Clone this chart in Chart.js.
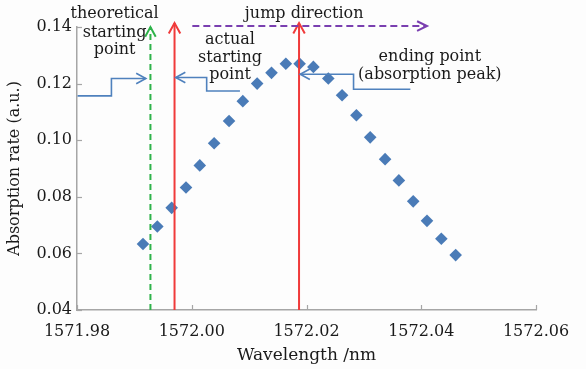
<!DOCTYPE html>
<html>
<head>
<meta charset="utf-8">
<script src="https://cdn.jsdelivr.net/npm/chart.js@4"></script>
<style>
  html, body { margin:0; padding:0; background:#fdfdfd; }
  #wrap { width:586px; height:369px; position:relative; }
</style>
</head>
<body>
<div id="wrap"><canvas id="c" width="586" height="369"></canvas></div>
<script>
// ---- data ----
const wavelengths = [1571.9915, 1571.9940, 1571.9965, 1571.9990, 1572.0014, 1572.0039, 1572.0065, 1572.0089,
  1572.0114, 1572.0139, 1572.0164, 1572.0188, 1572.0212, 1572.0238, 1572.0262, 1572.0287, 1572.0311,
  1572.0337, 1572.0361, 1572.0386, 1572.0410, 1572.0435, 1572.0460];
const absorption = [0.0633, 0.0695, 0.0761, 0.0833, 0.0911, 0.0989, 0.1068, 0.1138, 0.1200, 0.1238, 0.1270,
  0.1270, 0.1259, 0.1218, 0.1159, 0.1088, 0.1010, 0.0933, 0.0858, 0.0784, 0.0715, 0.0652, 0.0594];
const xTicks = [1571.98, 1572.00, 1572.02, 1572.04, 1572.06];
const yTicks = [0.04, 0.06, 0.08, 0.10, 0.12, 0.14];

// vertical marker lines (wavelength, top value)
const theoreticalStart = [1571.9928, 0.1400];
const actualStart = [1571.9970, 0.1414];
const endingPoint = [1572.0187, 0.1414];
// jump direction arrow: [xFrom, xTo, y]
const jumpArrow = [1572.0001, 1572.0410, 0.14035];
// callout polylines (data coordinates), last point = arrow tip
const calloutTheoretical = [[1571.9801, 0.11565], [1571.9860, 0.11565], [1571.9860, 0.12179], [1571.9920, 0.12179]];
const calloutActual = [[1572.0084, 0.11741], [1572.0026, 0.11741], [1572.0026, 0.12214], [1571.9972, 0.12214]];
const calloutEnding = [[1572.0381, 0.1180], [1572.0282, 0.1180], [1572.0282, 0.12331], [1572.0189, 0.12331]];
// text labels: [text, x, y]
const labels = [
  ['theoretical', 1571.98656, 0.14448], ['starting', 1571.98656, 0.13778], ['point', 1571.98656, 0.13178],
  ['actual', 1572.00667, 0.13531], ['starting', 1572.00667, 0.12910], ['point', 1572.00667, 0.12295],
  ['jump direction', 1572.0196, 0.14448],
  ['ending point', 1572.0415, 0.12930], ['(absorption peak)', 1572.0415, 0.12310]
];

const FONT = "'DejaVu Serif', serif";

function arrowHead(ctx, tx, ty, angle, len, spread) {
  ctx.beginPath();
  ctx.moveTo(tx - len * Math.cos(angle - spread), ty - len * Math.sin(angle - spread));
  ctx.lineTo(tx, ty);
  ctx.lineTo(tx - len * Math.cos(angle + spread), ty - len * Math.sin(angle + spread));
  ctx.stroke();
}

const overlay = {
  id: 'overlay',
  afterDatasetsDraw(chart) {
    const { ctx, scales: { x, y } } = chart;
    const px = v => x.getPixelForValue(v), py = v => y.getPixelForValue(v);
    const area = chart.chartArea;
    ctx.save();
    // inward tick marks
    ctx.strokeStyle = '#a6a6a6'; ctx.lineWidth = 1.2;
    xTicks.forEach(v => { const X = Math.round(px(v)) + 0.5; ctx.beginPath(); ctx.moveTo(X, area.bottom); ctx.lineTo(X, area.bottom - 5); ctx.stroke(); });
    yTicks.forEach(v => { const Y = Math.round(py(v)) + 0.5; ctx.beginPath(); ctx.moveTo(area.left, Y); ctx.lineTo(area.left + 5, Y); ctx.stroke(); });

    // theoretical (green dashed)
    ctx.lineWidth = 2;
    ctx.strokeStyle = '#2eb34a';
    ctx.setLineDash([6, 4]);
    let X = px(theoreticalStart[0]);
    ctx.beginPath(); ctx.moveTo(X, area.bottom); ctx.lineTo(X, py(theoreticalStart[1])); ctx.stroke();
    ctx.setLineDash([]);
    arrowHead(ctx, X, py(theoreticalStart[1]), -Math.PI / 2, 11, 0.5);

    // red lines
    ctx.strokeStyle = '#f03a3a';
    [actualStart, endingPoint].forEach(m => {
      const Xr = px(m[0]);
      ctx.beginPath(); ctx.moveTo(Xr, area.bottom); ctx.lineTo(Xr, py(m[1])); ctx.stroke();
      arrowHead(ctx, Xr, py(m[1]), -Math.PI / 2, 12, 0.5);
    });

    // jump direction (purple dashed)
    ctx.strokeStyle = '#7a3fb0';
    ctx.setLineDash([7, 4]);
    const Yj = py(jumpArrow[2]);
    ctx.beginPath(); ctx.moveTo(px(jumpArrow[0]), Yj); ctx.lineTo(px(jumpArrow[1]), Yj); ctx.stroke();
    ctx.setLineDash([]);
    arrowHead(ctx, px(jumpArrow[1]), Yj, 0, 11, 0.45);

    // blue callouts
    ctx.strokeStyle = '#4f81bd'; ctx.lineWidth = 1.6;
    [calloutTheoretical, calloutActual, calloutEnding].forEach(pts => {
      ctx.beginPath();
      pts.forEach((p, i) => { const a = px(p[0]), b = py(p[1]); if (i) ctx.lineTo(a, b); else ctx.moveTo(a, b); });
      ctx.stroke();
      const n = pts.length, t = pts[n - 1], s = pts[n - 2];
      const ang = Math.atan2(py(t[1]) - py(s[1]), px(t[0]) - px(s[0]));
      arrowHead(ctx, px(t[0]), py(t[1]), ang, 11, 0.5);
    });

    // text
    ctx.fillStyle = '#1a1a1a';
    ctx.font = "16px " + FONT;
    ctx.textAlign = 'center'; ctx.textBaseline = 'middle';
    labels.forEach(l => ctx.fillText(l[0], px(l[1]), py(l[2])));
    ctx.restore();
  }
};

new Chart(document.getElementById('c'), {
  type: 'scatter',
  data: {
    datasets: [{
      data: wavelengths.map((w, i) => ({ x: w, y: absorption[i] })),
      pointStyle: 'rectRot',
      pointRadius: 6.3,
      pointHoverRadius: 6.3,
      backgroundColor: '#4a7bb7',
      borderColor: '#4a7bb7',
      borderWidth: 0
    }]
  },
  options: {
    responsive: false,
    animation: false,
    events: [],
    layout: { padding: { left: 0, top: 27, right: 50, bottom: 0 } },
    plugins: { legend: { display: false }, tooltip: { enabled: false } },
    scales: {
      x: {
        type: 'linear', min: 1571.98, max: 1572.06,
        afterBuildTicks: s => { s.ticks = xTicks.map(v => ({ value: v })); },
        afterFit: s => { s.height = 59; },
        grid: { display: true, drawOnChartArea: false, drawTicks: false },
        border: { color: '#a6a6a6', width: 1.5 },
        ticks: { color: '#1a1a1a', font: { family: FONT, size: 16 }, padding: 12, maxRotation: 0,
                 callback: v => v.toFixed(2) },
        title: { display: true, text: 'Wavelength /nm', color: '#1a1a1a', font: { family: FONT, size: 17 }, padding: { top: 8, bottom: 3 } }
      },
      y: {
        min: 0.04, max: 0.14,
        afterBuildTicks: s => { s.ticks = yTicks.map(v => ({ value: v })); },
        afterFit: s => { s.width = 77; },
        grid: { display: true, drawOnChartArea: false, drawTicks: false },
        border: { color: '#a6a6a6', width: 1.5 },
        ticks: { color: '#1a1a1a', font: { family: FONT, size: 16 }, padding: 5,
                 callback: v => v.toFixed(2) },
        title: { display: true, text: 'Absorption rate (a.u.)', color: '#1a1a1a', font: { family: FONT, size: 16 }, padding: { top: 5, bottom: 0 } }
      }
    }
  },
  plugins: [overlay]
});
</script>
</body>
</html>
